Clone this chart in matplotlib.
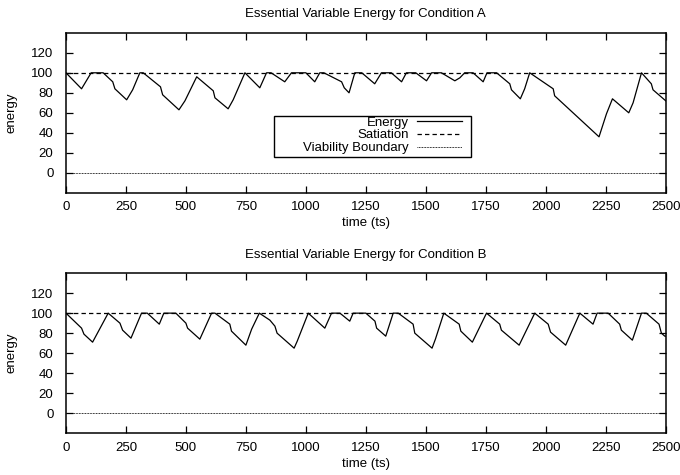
import matplotlib
matplotlib.use("Agg")
import matplotlib.pyplot as plt
from matplotlib.patches import Rectangle

plt.rcParams['font.family'] = ['Liberation Sans', 'DejaVu Sans']
plt.rcParams['font.size'] = 9.5

# condition A, energy trace (time, energy)
a_time = [0, 65, 105, 155, 195, 204, 253, 278, 308, 322, 394, 403, 471, 496, 545,
          614, 621, 676, 697, 746, 808, 836, 855, 912, 940, 1000, 1037, 1058, 1075, 1149,
          1160, 1180, 1204, 1233, 1287, 1315, 1356, 1399, 1419, 1458, 1503, 1524, 1565, 1621, 1642,
          1662, 1697, 1739, 1755, 1795, 1850, 1857, 1894, 1912, 1933, 2031, 2037, 2222, 2253, 2278,
          2346, 2364, 2399, 2440, 2447, 2500]
a_energy = [100, 84, 100, 100, 91, 84, 73, 83, 100, 100, 86, 78, 63, 72, 96,
            82, 75, 64, 73, 100, 85, 100, 100, 91, 100, 100, 91, 100, 100, 91,
            85, 80, 100, 100, 89, 100, 100, 91, 100, 100, 92, 100, 100, 92, 95,
            100, 100, 91, 100, 100, 89, 83, 74, 84, 100, 84, 77, 36, 59, 74,
            60, 70, 100, 89, 83, 72]

# condition B
b_time = [0, 65, 75, 111, 176, 225, 236, 271, 315, 339, 389, 408, 458, 500, 507,
          558, 607, 621, 683, 690, 750, 774, 806, 850, 871, 880, 951, 964, 1010, 1079,
          1107, 1142, 1183, 1197, 1250, 1288, 1295, 1333, 1364, 1385, 1447, 1454, 1526, 1540, 1575,
          1639, 1646, 1694, 1753, 1808, 1815, 1889, 1954, 2010, 2020, 2083, 2142, 2197, 2214, 2260,
          2308, 2315, 2361, 2399, 2419, 2472, 2482, 2496, 2500]
b_energy = [100, 85, 79, 71, 100, 90, 83, 75, 100, 100, 89, 100, 100, 90, 85,
            74, 100, 100, 89, 82, 68, 84, 100, 93, 87, 80, 65, 72, 100, 85,
            100, 100, 92, 100, 100, 92, 85, 77, 100, 100, 89, 80, 65, 74, 100,
            89, 82, 71, 100, 89, 83, 68, 100, 89, 81, 68, 100, 89, 100, 100,
            89, 83, 73, 100, 100, 89, 80, 77, 77]

satiation = 100
viability = 0
x_ticks = [0, 250, 500, 750, 1000, 1250, 1500, 1750, 2000, 2250, 2500]
y_ticks = [0, 20, 40, 60, 80, 100, 120]

fig = plt.figure(figsize=(6.8, 4.75), dpi=100)

panels = [
    ("Essential Variable Energy for Condition A", a_time, a_energy, 0.594, True),
    ("Essential Variable Energy for Condition B", b_time, b_energy, 0.088, False),
]

for title, t, e, bottom, show_legend in panels:
    ax = fig.add_axes([0.097, bottom, 0.882, 0.337])
    ax.plot(t, e, color='black', lw=0.9, label='Energy')
    ax.plot([0, 2500], [satiation, satiation], color='black', lw=0.9,
            dashes=(3.5, 2.5), label='Satiation')
    ax.plot([0, 2500], [viability, viability], color='black', lw=0.7,
            dashes=(0.8, 0.8), label='Viability Boundary')
    ax.set_xlim(0, 2500)
    ax.set_ylim(-20, 140)
    ax.set_xticks(x_ticks)
    ax.set_yticks(y_ticks)
    ax.tick_params(direction='in', length=5, width=0.9, top=True, right=True)
    ax.tick_params(axis='y', pad=9)
    ax.tick_params(axis='x', pad=6)
    for s in ax.spines.values():
        s.set_linewidth(1.1)
    ax.set_title(title, fontsize=9.5, pad=11)
    ax.set_xlabel('time (ts)', labelpad=3)
    ax.set_ylabel('energy', labelpad=10)

    if show_legend:
        # gnuplot style key: wide box, labels right-aligned next to samples
        ax.add_patch(Rectangle((0.347, 0.225), 0.328, 0.256, transform=ax.transAxes,
                               fill=False, edgecolor='black', lw=1.0, zorder=5))
        leg = ax.legend(loc='upper right', bbox_to_anchor=(0.66, 0.478), markerfirst=False,
                        frameon=False, handlelength=3.4, handletextpad=0.6,
                        labelspacing=0.05, borderpad=0, borderaxespad=0)

plt.savefig('out.png', dpi=100)
